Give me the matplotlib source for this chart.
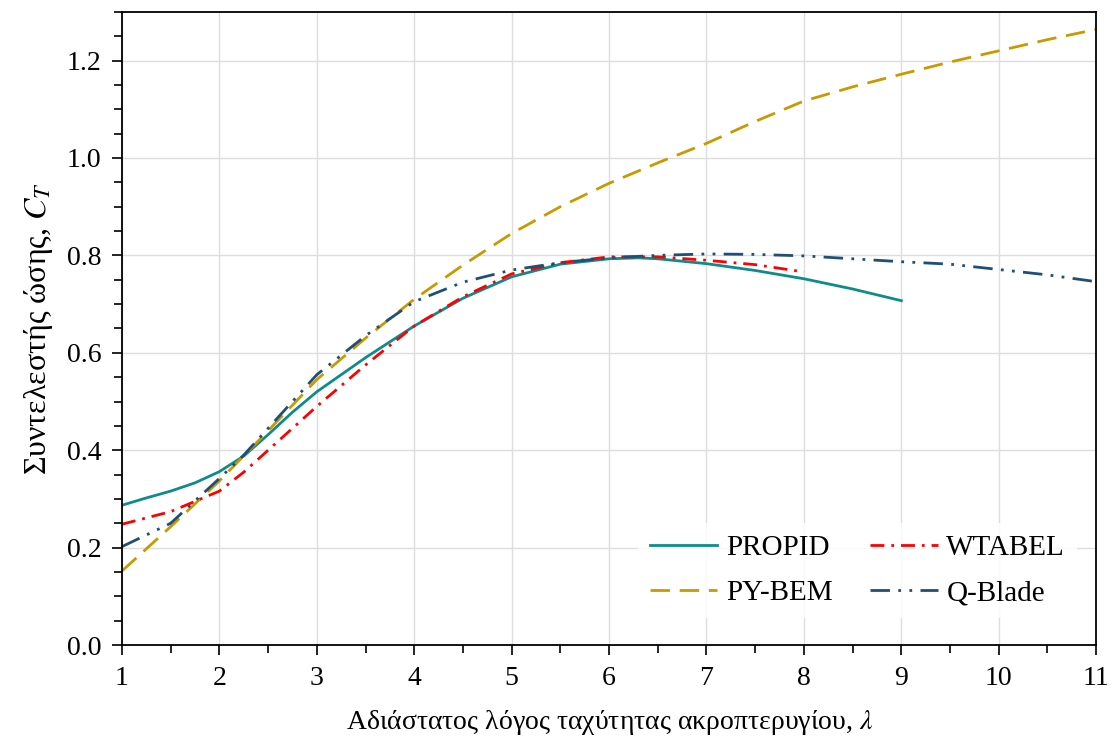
import numpy as np
import matplotlib
matplotlib.use('Agg')
import matplotlib.pyplot as plt

plt.rcParams['font.family'] = ['Liberation Serif', 'DejaVu Serif']
plt.rcParams['mathtext.fontset'] = 'stix'

# tip speed ratio / thrust coefficient
lam_propid = [1.0, 1.25, 1.5, 1.75, 2.0, 2.25, 2.5, 2.75, 3.0, 3.5, 4.0, 4.5, 5.0, 5.5, 6.0, 6.3, 6.5, 7.0, 7.5, 8.0, 8.5, 9.0]
ct_propid = [0.287, 0.302, 0.316, 0.333, 0.356, 0.388, 0.432, 0.478, 0.52, 0.59, 0.655, 0.712, 0.756, 0.782, 0.793, 0.795, 0.793, 0.783, 0.769, 0.752, 0.731, 0.707]

lam_wtabel = [1.0, 1.5, 2.0, 2.25, 2.5, 3.0, 3.5, 4.0, 4.5, 5.0, 5.5, 6.0, 6.5, 7.0, 7.5, 8.0]
ct_wtabel = [0.248, 0.274, 0.316, 0.355, 0.40, 0.49, 0.575, 0.655, 0.715, 0.762, 0.785, 0.797, 0.797, 0.79, 0.781, 0.766]

lam_pybem = [1.0, 1.5, 2.0, 2.5, 3.0, 3.5, 4.0, 4.5, 5.0, 5.5, 6.0, 6.5, 7.0, 7.5, 8.0, 8.5, 9.0, 9.5, 10.0, 10.5, 11.0]
ct_pybem = [0.152, 0.243, 0.337, 0.44, 0.545, 0.63, 0.71, 0.78, 0.845, 0.9, 0.948, 0.99, 1.03, 1.075, 1.117, 1.146, 1.172, 1.197, 1.22, 1.243, 1.264]

lam_qblade = [1.0, 1.5, 2.0, 2.25, 2.5, 3.0, 3.5, 4.0, 4.5, 5.0, 5.5, 6.0, 6.5, 7.0, 7.5, 8.0, 8.5, 9.0, 9.5, 10.0, 10.5, 11.0]
ct_qblade = [0.202, 0.25, 0.342, 0.39, 0.445, 0.555, 0.635, 0.705, 0.745, 0.77, 0.785, 0.795, 0.8, 0.803, 0.802, 0.799, 0.793, 0.787, 0.782, 0.771, 0.76, 0.746]

fig = plt.figure(figsize=(11.14, 7.42), dpi=100)
ax = fig.add_axes([0.1095, 0.1307, 0.8745, 0.8533])

lw = 2.0
ax.plot(lam_propid, ct_propid, color='#0e8c8c', lw=lw, label='PROPID')
ax.plot(lam_pybem, ct_pybem, color='#c99a00', lw=lw, dashes=(7, 3.5), label='PY-BEM')
ax.plot(lam_wtabel, ct_wtabel, color='#ff0000', lw=lw, dashes=(5, 2.5, 1, 2.5), label='WTABEL')
ax.plot(lam_qblade, ct_qblade, color='#1f4e79', lw=lw, dashes=(7, 3, 1, 3, 1, 3), label='Q-Blade')

ax.set_xlim(1, 11)
ax.set_ylim(0, 1.3)
ax.set_xticks(np.arange(1, 12, 1))
ax.set_xticks(np.arange(1, 11.01, 0.5), minor=True)
ax.set_yticks(np.arange(0, 1.21, 0.2))
ax.set_yticks(np.arange(0, 1.31, 0.05), minor=True)
ax.yaxis.set_major_formatter(matplotlib.ticker.FormatStrFormatter('%.1f'))
ax.tick_params(which='both', direction='out', top=False, right=False, labelsize=20, width=1.2)
ax.tick_params(which='major', length=7, pad=8)
ax.tick_params(which='minor', length=6)
ax.grid(True, which='major', color='#dddddd', lw=1.0)
ax.set_axisbelow(True)
for s in ax.spines.values():
    s.set_linewidth(1.3)

ax.set_xlabel(r'Αδιάστατος λόγος ταχύτητας ακροπτερυγίου, $\lambda$', fontsize=20, labelpad=12)
ax.set_ylabel(r'Συντελεστής ώσης, $C_T$', fontsize=23, labelpad=8)

leg = ax.legend(ncol=2, loc='lower right', bbox_to_anchor=(0.995, 0.02), fontsize=21,
                frameon=True, facecolor='white', edgecolor='none', framealpha=0.85,
                handlelength=2.3, columnspacing=1.3, handletextpad=0.3, labelspacing=0.65)

fig.savefig('out.png', dpi=100)
